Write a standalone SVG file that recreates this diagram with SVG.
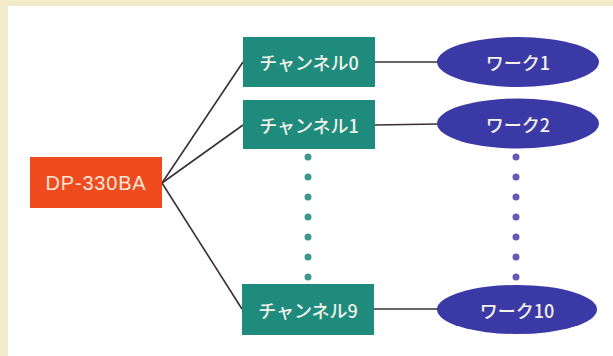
<svg xmlns="http://www.w3.org/2000/svg" width="613" height="356" viewBox="0 0 613 356">
<defs>
<style>
.bg{fill:#f2ebc9}
.panel{fill:#ffffff}
.ch rect{fill:#1e8b7d}
.wk ellipse{fill:#3b39a6}
.src rect{fill:#ef4b1f}
.t{font-family:"Noto Sans CJK JP","Liberation Sans",sans-serif;font-size:18px;font-weight:500;fill:#f2f2ea;text-anchor:middle;dominant-baseline:central}
.tl{font-family:"Liberation Sans","Noto Sans",sans-serif;font-size:20px;fill:#f9e6d6;text-anchor:middle;dominant-baseline:central;letter-spacing:0.8px}
.conn line{stroke:#3a2f35;stroke-width:1.6;fill:none}
.dt{fill:#3d978f}
.dp{fill:#6a58b6}
</style>
</defs>
<rect class="bg" x="0" y="0" width="613" height="356"/>
<rect class="panel" x="8" y="6" width="605" height="350"/>
<g id="connectors" class="conn">
<line x1="162" y1="183" x2="243" y2="62"/>
<line x1="162" y1="183" x2="243" y2="125"/>
<line x1="162" y1="183" x2="242" y2="309"/>
<line x1="375" y1="62" x2="438" y2="62"/>
<line x1="375" y1="125" x2="438" y2="124"/>
<line x1="374" y1="309" x2="438" y2="309"/>
</g>
<g id="dots-ch">
<circle class="dt" cx="308" cy="157" r="3.5"/>
<circle class="dt" cx="308" cy="177" r="3.5"/>
<circle class="dt" cx="308" cy="197" r="3.5"/>
<circle class="dt" cx="308" cy="217" r="3.5"/>
<circle class="dt" cx="308" cy="237" r="3.5"/>
<circle class="dt" cx="308" cy="257" r="3.5"/>
<circle class="dt" cx="308" cy="277" r="3.5"/>
</g>
<g id="dots-wk">
<circle class="dp" cx="516" cy="157" r="3.5"/>
<circle class="dp" cx="516" cy="177" r="3.5"/>
<circle class="dp" cx="516" cy="197" r="3.5"/>
<circle class="dp" cx="516" cy="217" r="3.5"/>
<circle class="dp" cx="516" cy="237" r="3.5"/>
<circle class="dp" cx="516" cy="257" r="3.5"/>
<circle class="dp" cx="516" cy="277" r="3.5"/>
</g>
<g id="dp330ba" class="src">
<rect x="30" y="157" width="132" height="51"/>
<text class="tl" x="96" y="183">DP-330BA</text>
</g>
<g id="ch0" class="ch">
<rect x="243" y="37" width="132" height="50"/>
<text class="t" x="309" y="62">チャンネル0</text>
</g>
<g id="ch1" class="ch">
<rect x="243" y="100" width="132" height="49"/>
<text class="t" x="309" y="124.5">チャンネル1</text>
</g>
<g id="ch9" class="ch">
<rect x="242" y="284" width="132" height="51"/>
<text class="t" x="308" y="309.5">チャンネル9</text>
</g>
<g id="wk1" class="wk">
<ellipse cx="518" cy="62" rx="81" ry="25"/>
<text class="t" x="518" y="62">ワーク1</text>
</g>
<g id="wk2" class="wk">
<ellipse cx="518" cy="123.5" rx="81" ry="25"/>
<text class="t" x="518" y="123.5">ワーク2</text>
</g>
<g id="wk10" class="wk">
<ellipse cx="517" cy="309.5" rx="80" ry="24.5"/>
<text class="t" x="517" y="309.5">ワーク10</text>
</g>
</svg>
